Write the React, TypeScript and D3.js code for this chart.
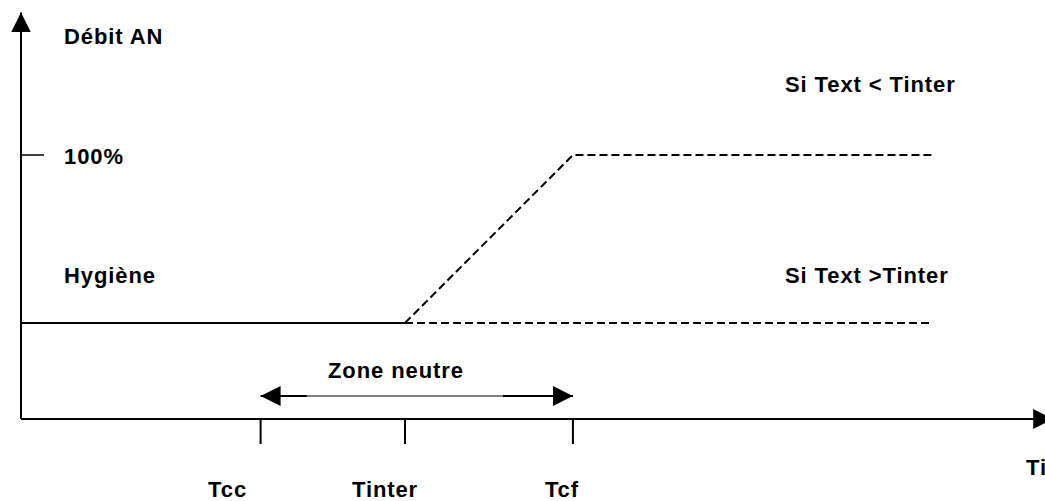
import * as d3 from 'd3';
import React, { useRef, useEffect } from 'react';

// schematic values (x in arbitrary temperature units, y in % of flow)
const tickNames = ['Tcc', 'Tinter', 'Tcf'];
const tickTemps = [23.4, 37.5, 53.9];
const tickLabelDx = [-33, -20, -11];
const hygiene = 36.4;
const fullFlow = 100;
const coldCurve = [
    { t: 37.5, q: hygiene },
    { t: 53.9, q: fullFlow },
    { t: 89, q: fullFlow }
];
const hotCurve = [
    { t: 37.5, q: hygiene },
    { t: 89, q: hygiene }
];
const solidPart = [
    { t: 0, q: hygiene },
    { t: 37.5, q: hygiene }
];

function App() {
    const ref = useRef(null);
    const width = 1045;
    const height = 501;

    useEffect(() => {
        const svg = d3.select(ref.current);
        svg.selectAll('*').remove();

        const x = d3.scaleLinear().domain([0, 100]).range([21, 1045]);
        const y = d3.scaleLinear().domain([0, 100]).range([419, 155]);
        const font = "'Liberation Sans', Arial, sans-serif";

        const defs = svg.append('defs');
        defs.append('marker')
            .attr('id', 'head')
            .attr('viewBox', '0 0 20 20')
            .attr('refX', 20).attr('refY', 10)
            .attr('markerWidth', 20).attr('markerHeight', 20)
            .attr('markerUnits', 'userSpaceOnUse')
            .attr('orient', 'auto-start-reverse')
            .append('path').attr('d', 'M0,0 L20,10 L0,20 Z').attr('fill', '#000');

        // axes
        svg.append('line')
            .attr('x1', x(0)).attr('y1', y(0))
            .attr('x2', x(0)).attr('y2', y(154))
            .attr('stroke', '#000').attr('stroke-width', 2)
            .attr('marker-end', 'url(#head)');
        svg.append('line')
            .attr('x1', x(0)).attr('y1', y(0))
            .attr('x2', x(100.8)).attr('y2', y(0))
            .attr('stroke', '#000').attr('stroke-width', 2)
            .attr('marker-end', 'url(#head)');

        // 100% tick
        svg.append('line')
            .attr('x1', x(0)).attr('x2', x(0) + 23)
            .attr('y1', y(fullFlow)).attr('y2', y(fullFlow))
            .attr('stroke', '#000').attr('stroke-width', 1.5);

        // x ticks
        svg.selectAll('.tick').data(tickTemps).enter()
            .append('line')
            .attr('x1', d => x(d)).attr('x2', d => x(d))
            .attr('y1', y(0)).attr('y2', y(0) + 25)
            .attr('stroke', '#000').attr('stroke-width', 2);

        svg.selectAll('.ticklabel').data(tickNames).enter()
            .append('text')
            .attr('x', (d, i) => x(tickTemps[i]) + tickLabelDx[i])
            .attr('y', 497)
            .attr('text-anchor', 'middle')
            .text(d => d);

        const line = d3.line<any>().x(d => x(d.t)).y(d => y(d.q));

        svg.append('path').attr('d', line(solidPart))
            .attr('fill', 'none').attr('stroke', '#000').attr('stroke-width', 2);
        svg.append('path').attr('d', line(hotCurve))
            .attr('fill', 'none').attr('stroke', '#000').attr('stroke-width', 2)
            .attr('stroke-dasharray', '8,4');
        svg.append('path').attr('d', line(coldCurve))
            .attr('fill', 'none').attr('stroke', '#000').attr('stroke-width', 2)
            .attr('stroke-dasharray', '8,4');

        // zone neutre arrow
        const zy = 396;
        const x0 = x(tickTemps[0]);
        const x2 = x(tickTemps[2]);
        svg.append('line')
            .attr('x1', x0 + 20).attr('x2', x2 - 20)
            .attr('y1', zy).attr('y2', zy)
            .attr('stroke', '#000').attr('stroke-width', 1);
        svg.append('line')
            .attr('x1', x0 + 46).attr('x2', x0)
            .attr('y1', zy).attr('y2', zy)
            .attr('stroke', '#000').attr('stroke-width', 2)
            .attr('marker-end', 'url(#head)');
        svg.append('line')
            .attr('x1', x2 - 70).attr('x2', x2)
            .attr('y1', zy).attr('y2', zy)
            .attr('stroke', '#000').attr('stroke-width', 2)
            .attr('marker-end', 'url(#head)');

        const labels = [
            { text: 'Débit AN', x: 64, y: 44 },
            { text: '100%', x: 64, y: 164 },
            { text: 'Hygiène', x: 64, y: 283 },
            { text: 'Si Text < Tinter', x: 785, y: 92 },
            { text: 'Si Text >Tinter', x: 785, y: 283 },
            { text: 'Zone neutre', x: 328, y: 378 },
            { text: 'Ti', x: 1026, y: 475 }
        ];
        svg.selectAll('.lbl').data(labels).enter()
            .append('text')
            .attr('x', d => d.x).attr('y', d => d.y)
            .text(d => d.text);

        svg.selectAll('text')
            .attr('font-family', font)
            .attr('font-weight', 'bold')
            .attr('font-size', 22)
            .attr('letter-spacing', 0.9)
            .attr('fill', '#000');
    }, []);

    return (
        <svg ref={ref} width={width} height={height}
            style={{ position: 'absolute', left: 0, top: 0, background: '#fff' }}>
        </svg>
    );
}

export default App;
